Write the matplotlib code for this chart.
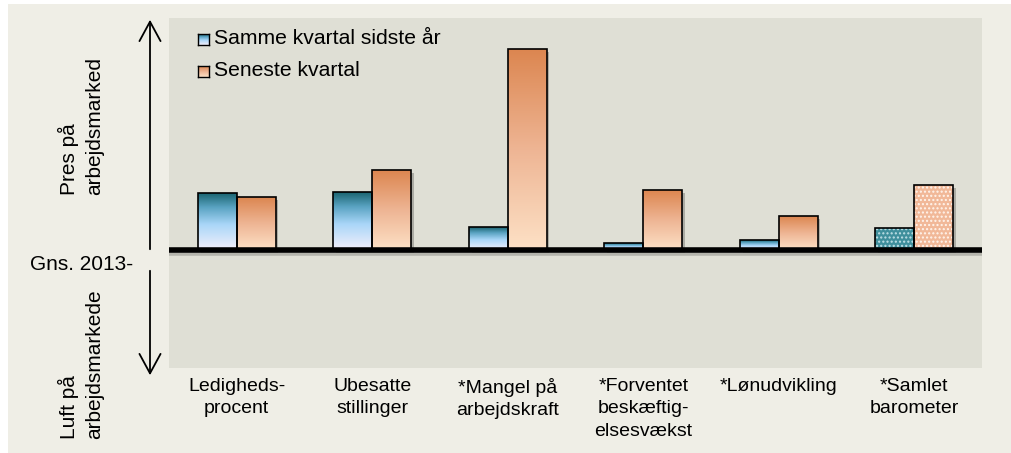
import matplotlib
matplotlib.use("Agg")
import matplotlib.pyplot as plt
import matplotlib.patheffects as pe
from matplotlib.patches import Rectangle, FancyArrowPatch
from matplotlib.colors import LinearSegmentedColormap
import numpy as np

plt.rcParams['font.family'] = ['Liberation Sans', 'DejaVu Sans']

# data (index relative to average)
categories = ["Ledigheds-\nprocent", "Ubesatte\nstillinger", "*Mangel på\narbejdskraft",
              "*Forventet\nbeskæftig-\nelsesvækst", "*Lønudvikling", "*Samlet\nbarometer"]
same_qtr_last_year = [5.7, 5.8, 2.3, 0.7, 1.0, 2.2]
latest_qtr = [5.3, 8.0, 20.1, 6.0, 3.4, 6.5]
series_names = ["Samme kvartal sidste år", "Seneste kvartal"]

W, H = 1011, 453
fig = plt.figure(figsize=(W / 100, H / 100), dpi=100, facecolor="white")

# outer beige panel
fig.patches.append(Rectangle((8 / W, 0), 1 - 8 / W, 1 - 4 / H, transform=fig.transFigure,
                             facecolor="#efeee6", edgecolor="none", zorder=-10))

ax = fig.add_axes([169 / W, 1 - 368 / H, (982 - 169) / W, (368 - 18) / H])
ax.set_facecolor("#dfdfd5")
for s in ax.spines.values():
    s.set_visible(False)
ax.set_yticks([])

blue_cmap = LinearSegmentedColormap.from_list(
    "blue", [(0.0, "#f4f0fb"), (0.45, "#a9d6f8"), (0.75, "#5aa3c2"), (1.0, "#1a6470")])
orange_cmap = LinearSegmentedColormap.from_list(
    "orange", [(0.0, "#fde1c6"), (0.5, "#eeb594"), (1.0, "#dc8650")])
grad = np.linspace(0, 1, 256).reshape(-1, 1)

x = np.arange(len(categories))
bw = 0.287
shadow_only = [pe.SimplePatchShadow(offset=(2, -2), shadow_rgbFace="#8a8a84", alpha=0.6)]


def bar_frame(xpos, vals):
    # shadow underneath, outline on top
    ax.bar(xpos, vals, bw, facecolor="gray", lw=0, zorder=1.5, path_effects=shadow_only)
    return ax.bar(xpos, vals, bw, facecolor="none", edgecolor="black", lw=1.2, zorder=3)


def gradient_bars(xpos, vals, cmap):
    bars = bar_frame(xpos, vals)
    for b in bars:
        x0, w, h = b.get_x(), b.get_width(), b.get_height()
        im = ax.imshow(grad, cmap=cmap, origin="lower", aspect="auto",
                       extent=[x0, x0 + w, 0, h], zorder=2)
        im.set_clip_path(b)
    return bars


n = len(categories) - 1
gradient_bars(x[:n] - bw / 2, same_qtr_last_year[:n], blue_cmap)
gradient_bars(x[:n] + bw / 2, latest_qtr[:n], orange_cmap)

# last category: dotted fills
plt.rcParams['hatch.linewidth'] = 1.0
bar_frame([x[n] - bw / 2, x[n] + bw / 2], [same_qtr_last_year[n], latest_qtr[n]])
ax.bar(x[n] - bw / 2, same_qtr_last_year[n], bw, facecolor="#3f8f9c", edgecolor="#bfe0e6",
       lw=0, hatch="....", zorder=2)
ax.bar(x[n] + bw / 2, latest_qtr[n], bw, facecolor="#f1b898", edgecolor="#fff4ec",
       lw=0, hatch="....", zorder=2)

# imshow resets limits
ax.set_xlim(-0.5, 5.5)
ax.set_ylim(-11.8, 23.2)

# baseline
ax.axhline(0, color="black", lw=4, zorder=4,
           path_effects=[pe.SimpleLineShadow(offset=(0, -2), shadow_color="#8a8a84", alpha=0.5),
                         pe.Normal()])

ax.set_xticks(x)
ax.set_xticklabels(categories, fontsize=14, linespacing=1.42, va="top")
ax.tick_params(axis="x", length=0, pad=7)

# legend
for i, (name, cmap) in enumerate(zip(series_names, [blue_cmap, orange_cmap])):
    yc = 39 + i * 32
    lax = fig.add_axes([198 / W, 1 - (yc + 6) / H, 11 / W, 11 / H])
    lax.imshow(grad, cmap=cmap, origin="lower", aspect="auto")
    lax.set_xticks([])
    lax.set_yticks([])
    for s in lax.spines.values():
        s.set_linewidth(1.0)
    fig.text(214 / W, 1 - yc / H, name, fontsize=15.2, va="center", ha="left")

# left side annotations
fig.text(81 / W, 1 - 126 / H, "Pres på\narbejdsmarked", rotation=90, fontsize=15,
         ha="center", va="center", multialignment="left", linespacing=1.35)
fig.text(81 / W, 1 - 364 / H, "Luft på\narbejdsmarkede", rotation=90, fontsize=15,
         ha="center", va="center", multialignment="left", linespacing=1.35)
fig.text(133 / W, 1 - 264 / H, "Gns. 2013-", fontsize=15, ha="right", va="center")

arrow_style = "->,head_length=0.7,head_width=0.38"
fig.patches.append(FancyArrowPatch(
    (150 / W, 1 - 252 / H), (150 / W, 1 - 17 / H), transform=fig.transFigure,
    arrowstyle=arrow_style, mutation_scale=20, lw=1.3, color="black"))
fig.patches.append(FancyArrowPatch(
    (150 / W, 1 - 268 / H), (150 / W, 1 - 378 / H), transform=fig.transFigure,
    arrowstyle=arrow_style, mutation_scale=20, lw=1.3, color="black"))

fig.savefig("out.png", dpi=100, facecolor=fig.get_facecolor())
